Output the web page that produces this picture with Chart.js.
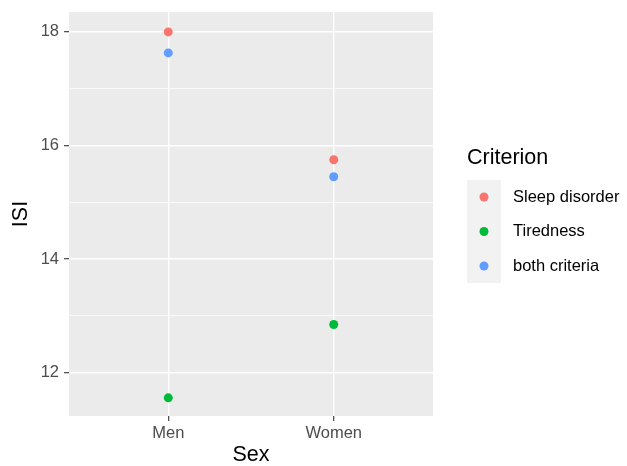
<!DOCTYPE html>
<html>
<head>
<meta charset="utf-8">
<script src="https://cdn.jsdelivr.net/npm/chart.js@4"></script>
<style>
  html, body { margin: 0; padding: 0; background: #fff; }
  #wrap { width: 627px; height: 466px; }
</style>
</head>
<body>
<div id="wrap"><canvas id="myChart" width="627" height="466"></canvas></div>
<script>
// Data
const sexes = ['Men', 'Women'];
const criteria = ['Sleep disorder', 'Tiredness', 'both criteria'];
const sleepDisorder = [18.0, 15.75];
const tiredness = [11.56, 12.85];
const bothCriteria = [17.63, 15.45];
const yTicks = [12, 13, 14, 15, 16, 17, 18];
const colors = ['#F8766D', '#00BA38', '#619CFF'];

const FONT = '"Liberation Sans", Arial, Helvetica, sans-serif';

function toPoints(values) {
    return values.map((v, i) => ({ x: i + 1, y: v }));
}

const seriesValues = [sleepDisorder, tiredness, bothCriteria];
const datasets = criteria.map((name, i) => ({
    label: name,
    data: toPoints(seriesValues[i]),
    backgroundColor: colors[i],
    borderColor: colors[i],
    pointRadius: 4.5,
    pointBorderWidth: 0
}));

// grey panel behind the grid
const panelBackground = {
    id: 'panelBackground',
    beforeDraw(chart) {
        const { ctx, chartArea: a } = chart;
        ctx.save();
        ctx.fillStyle = '#EBEBEB';
        ctx.fillRect(a.left, a.top, a.right - a.left, a.bottom - a.top);
        ctx.restore();
    }
};

// ggplot-like legend on the right
const sideLegend = {
    id: 'sideLegend',
    afterDraw(chart) {
        const ctx = chart.ctx;
        ctx.save();
        ctx.fillStyle = '#000';
        ctx.font = '21.5px ' + FONT;
        ctx.textBaseline = 'middle';
        ctx.textAlign = 'left';
        ctx.fillText('Criterion', 467, 158);

        ctx.fillStyle = '#F2F2F2';
        ctx.fillRect(467, 180, 34, 103);

        ctx.font = '16.5px ' + FONT;
        chart.data.datasets.forEach((ds, i) => {
            const y = 197 + i * 34.5;
            ctx.fillStyle = ds.backgroundColor;
            ctx.beginPath();
            ctx.arc(484, y, 4.5, 0, Math.PI * 2);
            ctx.fill();
            ctx.fillStyle = '#000';
            ctx.fillText(ds.label, 513, y);
        });
        ctx.restore();
    }
};

const ctx = document.getElementById('myChart').getContext('2d');
const myChart = new Chart(ctx, {
    type: 'scatter',
    data: { datasets: datasets },
    plugins: [panelBackground, sideLegend],
    options: {
        responsive: false,
        animation: false,
        layout: { padding: { top: 12, right: 194, left: 0, bottom: 0 } },
        plugins: {
            legend: { display: false },
            tooltip: { enabled: false }
        },
        scales: {
            x: {
                type: 'linear',
                min: 0.4,
                max: 2.6,
                afterBuildTicks: (scale) => {
                    scale.ticks = sexes.map((s, i) => ({ value: i + 1 }));
                },
                afterFit: (scale) => {
                    scale.height = 50;
                    scale.paddingLeft = 0;
                    scale.paddingRight = 0;
                },
                border: { display: false },
                grid: {
                    color: '#FFFFFF',
                    lineWidth: 1.4,
                    drawTicks: true,
                    tickLength: 5,
                    tickColor: '#333333',
                    tickWidth: 1.1
                },
                ticks: {
                    padding: 3,
                    color: '#4D4D4D',
                    font: { family: FONT, size: 16.5 },
                    maxRotation: 0,
                    callback: (v) => sexes[Math.round(v) - 1]
                },
                title: {
                    display: true,
                    text: 'Sex',
                    color: '#000',
                    font: { family: FONT, size: 21.5, lineHeight: 1 },
                    padding: { top: 0, bottom: 0 }
                }
            },
            y: {
                min: 11.24,
                max: 18.35,
                afterBuildTicks: (scale) => {
                    scale.ticks = yTicks.map(v => ({ value: v }));
                },
                afterFit: (scale) => {
                    scale.width = 69;
                    scale.paddingTop = 0;
                    scale.paddingBottom = 0;
                },
                border: { display: false },
                grid: {
                    color: '#FFFFFF',
                    lineWidth: (c) => (c.tick && c.tick.value % 2 === 0 ? 1.4 : 0.7),
                    drawTicks: true,
                    tickLength: 5,
                    tickColor: (c) => (c.tick && c.tick.value % 2 === 0 ? '#333333' : 'rgba(0,0,0,0)'),
                    tickWidth: 1.1
                },
                ticks: {
                    padding: 5,
                    color: '#4D4D4D',
                    font: { family: FONT, size: 16.5 },
                    callback: (v) => (v % 2 === 0 ? String(v) : '')
                },
                title: {
                    display: true,
                    text: 'ISI',
                    color: '#000',
                    font: { family: FONT, size: 21.5, lineHeight: 1 },
                    padding: { top: 10, bottom: 0 }
                }
            }
        }
    }
});
</script>
</body>
</html>
